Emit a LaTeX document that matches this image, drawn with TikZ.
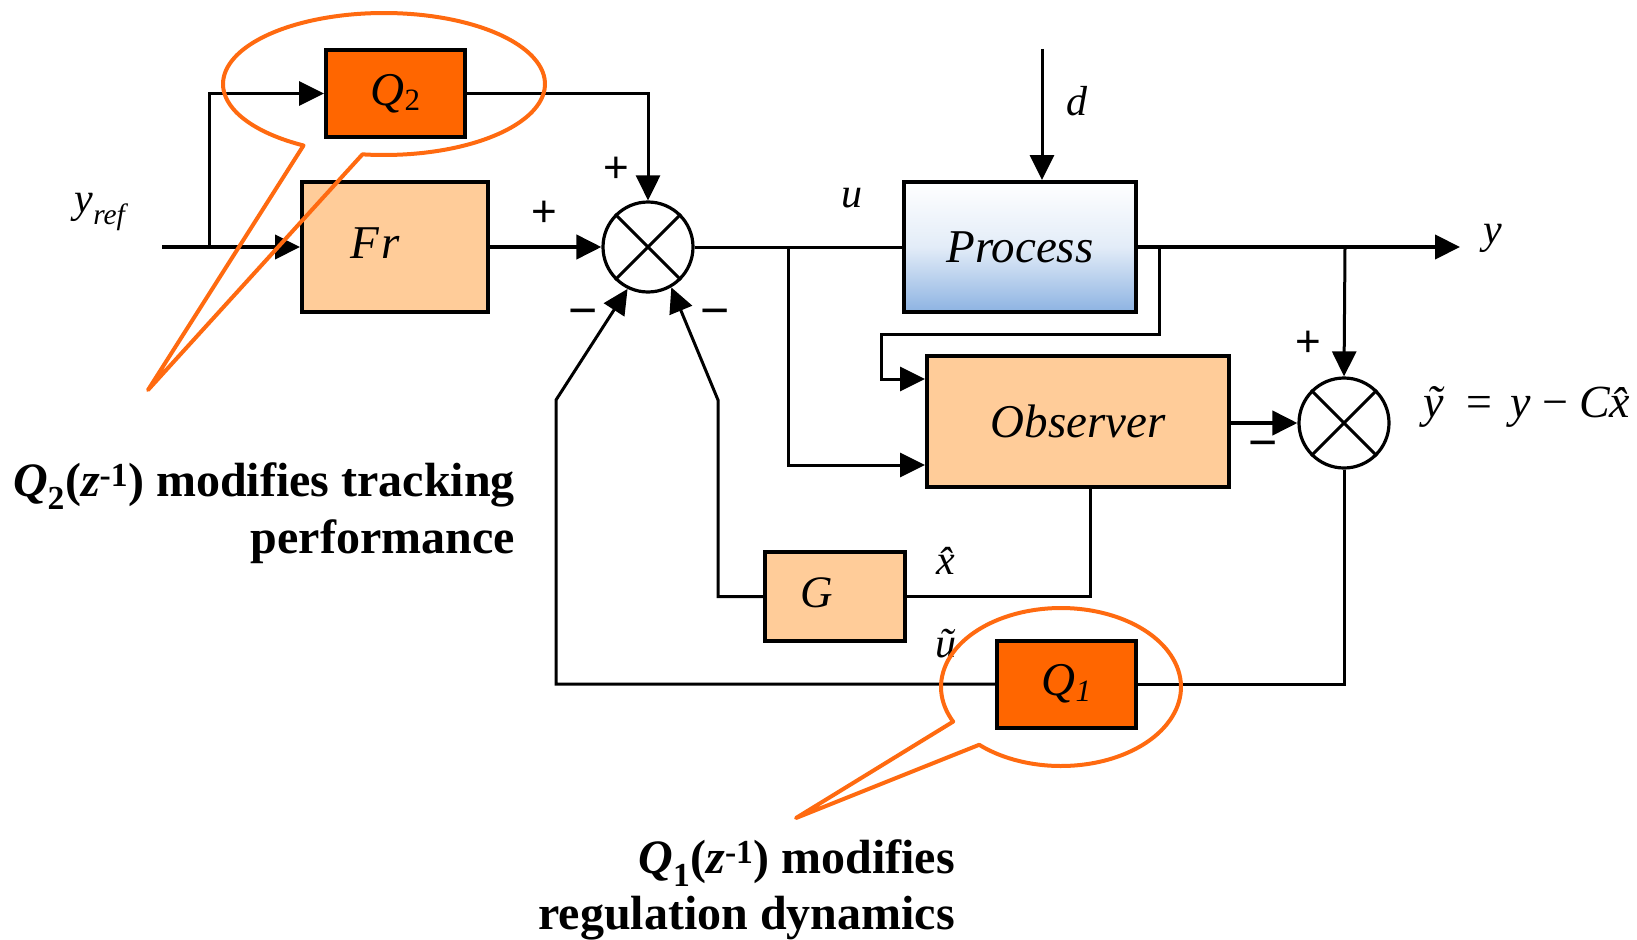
\documentclass[tikz,border=0pt]{standalone}
\usepackage{fontspec}
\setmainfont{Liberation Serif}
\newfontfamily\lsans{Liberation Sans}
\usetikzlibrary{arrows.meta,calc}
\definecolor{qorange}{HTML}{FF6600}
\definecolor{peach}{HTML}{FFCC99}
\definecolor{procblue}{HTML}{8DB3E2}
\definecolor{callorange}{HTML}{FF6A10}
\begin{document}
\begin{tikzpicture}[x=1pt,y=-1pt,
  blk/.style={draw=black,line width=4pt,inner sep=0pt,font=\fontsize{47}{50}\selectfont\itshape},
  qblk/.style={blk,fill=qorange,minimum width=139pt,minimum height=87pt},
  pblk/.style={blk,fill=peach},
  sumnode/.style={draw=black,circle,line width=3.2pt,minimum size=90pt,inner sep=0pt,fill=white},
  thin/.style={line width=3pt},
  thick/.style={line width=4.2pt},
  tip/.style={-{Triangle[length=25pt,width=24pt]}},
  lbl/.style={font=\fontsize{42}{44}\selectfont\itshape,inner sep=0pt},
  sgn/.style={font=\fontsize{44}{44}\selectfont\lsans,inner sep=0pt},
  msgn/.style={font=\fontsize{50}{50}\selectfont\lsans,inner sep=0pt},
  callout/.style={draw=callorange,line width=4pt,line join=round},
  ctext/.style={font=\fontsize{48}{57}\selectfont\bfseries,inner sep=0pt,anchor=base east}
]
\useasboundingbox (0,0) rectangle (1637,939);
% blocks
\node[qblk] (Q2) at (395.5,93.5) {Q\raisebox{-0.12em}{\fontsize{31}{31}\selectfont\upshape 2}};
\node[pblk,minimum width=186pt,minimum height=130pt] (Fr) at (395,247) {};
\node[lbl,font=\fontsize{47}{50}\selectfont\itshape] (FrT) at (375,243) {F\kern2pt r};
\node[sumnode] (S1) at (648,247) {};
\node[blk,minimum width=232pt,minimum height=130pt,top color=white,bottom color=procblue,middle color=procblue!25] (Proc) at (1020,247) {Process};
\node[pblk,minimum width=302pt,minimum height=131pt] (Obs) at (1078,421.5) {Observer};
\node[sumnode] (S2) at (1344,423) {};
\node[pblk,minimum width=140pt,minimum height=89pt] (G) at (835,596.5) {};
\node[lbl,font=\fontsize{45}{48}\selectfont\itshape] (GT) at (817,593) {G};
\node[qblk] (Q1) at (1066.5,684) {Q\raisebox{-0.12em}{\fontsize{31}{31}\selectfont 1}};
% crosses
\foreach \s in {S1,S2}{
  \draw[thin] (\s.north west) -- (\s.south east) (\s.north east) -- (\s.south west);
}
% coordinates
\coordinate (yin) at (162,247);
\coordinate (br1) at (209,247);
\coordinate (bru) at (788,247);
\coordinate (din) at (1042,49);
\coordinate (bry1) at (1159,247);
\coordinate (cy1) at (881,334);
\coordinate (bry2) at (1345,247);
\coordinate (yout) at (1460,247);
\coordinate (ob) at (1090,487);
\coordinate (cg1) at (718,596.5);
\coordinate (cg2) at (718,400);
\coordinate (cq1) at (556,684);
\coordinate (cq2) at (556,400);
% connectors
\draw[thick,tip] (yin) -- (Fr.west);
\draw[thin,tip] (br1) |- (Q2.west);
\draw[thick,tip] (Fr.east) -- (S1.west);
\draw[thin,tip] (Q2.east) -| (S1.north);
\draw[thin] (S1.east) -- (Proc.west);
\draw[thin,tip] (bru) |- ([yshift=-43.5pt]Obs.west);
\draw[thin,tip] (din) -- (din |- Proc.north);
\draw[thick,tip] (Proc.east) -- (yout);
\draw[thin,tip] (bry1) |- (cy1) |- ([yshift=42.5pt]Obs.west);
\draw[thin,tip] (bry2) -- (S2.north);
\draw[thick,tip] (Obs.east |- S2.west) -- (S2.west);
\draw[thin] (S2.south) |- (Q1.east);
\draw[thin] (ob) |- (G.east);
\draw[thin,tip,line join=miter] (G.west) -- (cg1) -- (cg2) -- (S1.-60);
\draw[thin,tip,line join=miter] (Q1.west) -- (cq1) -- (cq2) -- (S1.-116);
% signal labels
\node[lbl] (lyref) at (100,212) {y\textsubscript{ref}};
\node[lbl] (lu) at (852,198) {u};
\node[lbl] (ld) at (1077,101) {d};
\node[lbl] (ly) at (1493,238) {y};
\node[lbl] (lxh) at (946,561) {\^{x}};
\node[lbl] (lut) at (946,644) {\~{u}};
\node[lbl,anchor=west,font=\fontsize{46}{48}\selectfont\itshape] (lyt) at (1423,407) {\~{y}\hspace{20pt}=\hspace{16pt}y\hspace{11pt}{\upshape −}\hspace{11pt}C\^{x}};
% signs
\node[sgn] (p1) at (544,214) {+};
\node[sgn] (p2) at (616,170) {+};
\node[msgn] (m1) at (583,318) {−};
\node[msgn] (m2) at (715,318) {−};
\node[sgn] (p3) at (1308,344) {+};
\node[msgn] (m3) at (1263,450) {−};
% callouts
\draw[callout] plot[domain=120:457.7,samples=120,smooth] ({384+161*cos(\x)},{84+71*sin(\x)}) -- (148,390) -- cycle;
\draw[callout] plot[domain=154:493,samples=120,smooth] ({1061+120*cos(\x)},{687+79*sin(\x)}) -- (796,818) -- cycle;
% callout texts
\node[ctext] (c2a) at (515,496) {\textit{Q}\textsubscript{2}(\textit{z}\textsuperscript{-1}) modifies tracking};
\node[ctext] (c2b) at (515,553) {performance};
\node[ctext] (c1a) at (955,873) {\textit{Q}\textsubscript{1}(\textit{z}\textsuperscript{-1}) modifies};
\node[ctext] (c1b) at (955,929) {regulation dynamics};
\end{tikzpicture}
\end{document}
